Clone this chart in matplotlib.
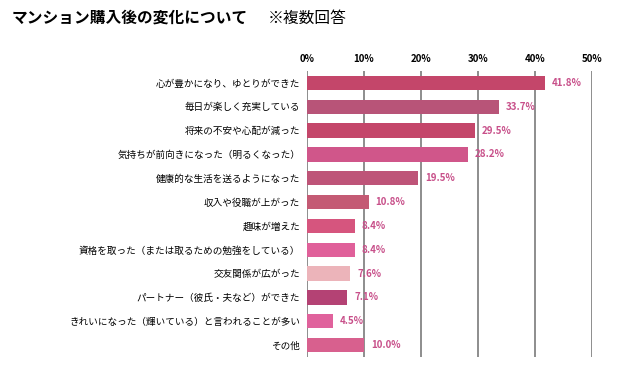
import matplotlib
matplotlib.use("Agg")
import matplotlib.pyplot as plt

plt.rcParams['font.family'] = ['Noto Sans CJK JP', 'DejaVu Sans']

categories = [
    "心が豊かになり、ゆとりができた",
    "毎日が楽しく充実している",
    "将来の不安や心配が減った",
    "気持ちが前向きになった（明るくなった）",
    "健康的な生活を送るようになった",
    "収入や役職が上がった",
    "趣味が増えた",
    "資格を取った（または取るための勉強をしている）",
    "交友関係が広がった",
    "パートナー（彼氏・夫など）ができた",
    "きれいになった（輝いている）と言われることが多い",
    "その他",
]
values = [41.8, 33.7, 29.5, 28.2, 19.5, 10.8, 8.4, 8.4, 7.6, 7.1, 4.5, 10.0]
colors = ["#C4466A", "#B85478", "#C4466A", "#D0568A", "#BE5478", "#C45A74",
          "#D6557E", "#E0609A", "#ECB4BA", "#B44274", "#E0629C", "#D8608E"]
ticks = [0, 10, 20, 30, 40, 50]
tick_labels = ["0%", "10%", "20%", "30%", "40%", "50%"]

fig = plt.figure(figsize=(6.27, 3.70), dpi=100)
ax = fig.add_axes([307/627, 1-357/370, (592-307)/627, (357-71)/370])

y = list(range(len(categories)))
ax.barh(y, values, height=0.6, color=colors, zorder=3)
ax.set_xlim(0, 50)
ax.set_ylim(len(categories)-0.5, -0.5)

for v in ticks:
    ax.axvline(v, color="#858585", lw=1.3, zorder=1)

for yi, v in zip(y, values):
    ax.annotate(f"{v:.1f}%", (v, yi), xytext=(5, 0), textcoords="offset points",
                va="center", ha="left", fontsize=7, fontweight="bold",
                color="#C8508A", zorder=4)

ax.xaxis.tick_top()
ax.set_xticks(ticks)
ax.set_xticklabels(tick_labels, fontsize=7, fontweight="bold")
ax.tick_params(axis="x", length=0, pad=5)
ax.set_yticks(y)
ax.set_yticklabels(categories, fontsize=6.9)
ax.tick_params(axis="y", length=0, pad=5)
for s in ax.spines.values():
    s.set_visible(False)

fig.text(12/627, 1-18/370, "マンション購入後の変化について", fontsize=11.3,
         fontweight="bold", va="center", ha="left")
fig.text(268/627, 1-18/370, "※複数回答", fontsize=11.3, va="center", ha="left")

fig.savefig("out.png", dpi=100)
